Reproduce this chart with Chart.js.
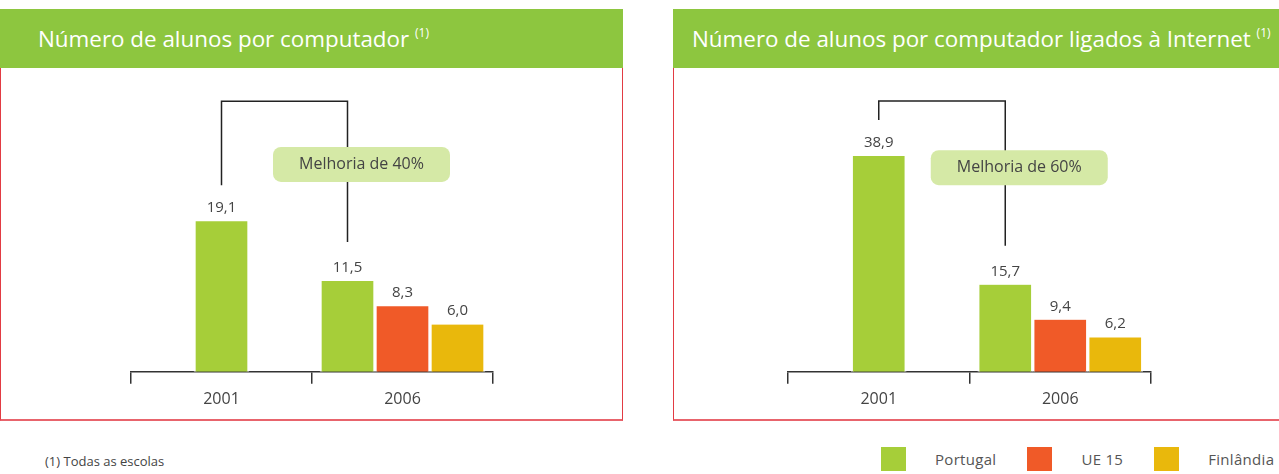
<!DOCTYPE html>
<html lang="pt">
<head>
<meta charset="UTF-8">
<title>Número de alunos por computador</title>
<script src="https://cdn.jsdelivr.net/npm/chart.js"></script>
<style>
  body { margin: 0; background: #fff; font-family: "Open Sans", sans-serif; }
  #page { position: relative; width: 1279px; height: 474px; overflow: hidden; }
  .panel { position: absolute; top: 9px; height: 412px; }
  .head { height: 59px; background: #8dc63f; color: #fff; font-size: 22.4px; line-height: 59px; white-space: nowrap; }
  .head sup { font-size: 12px; vertical-align: 10px; line-height: 0; }
  .frame { position: absolute; top: 59px; left: 0; right: 0; bottom: 0; border: 1px solid #e23b43; border-top: none; border-bottom: 2px solid #e8646c; }
  .chart { position: absolute; top: 80px; }
  #note { position: absolute; left: 45px; top: 452px; font-size: 13px; color: #444; }
  #legend { position: absolute; left: 881px; top: 447px; width: 420px; display: flex; font-size: 15px; color: #555; line-height: 24px; white-space: nowrap; letter-spacing: 0.3px; }
  #legend .sq { width: 25px; height: 24px; margin-right: 29px; flex-shrink: 0; }
  #legend .it { display: flex; margin-right: 31px; flex-shrink: 0; }
</style>
</head>
<body>
<div id="page">
  <div class="panel" style="left:0; width:623px;">
    <div class="head" style="padding-left:38px;">Número de alunos por computador <sup>(1)</sup></div>
    <div class="frame"></div>
  </div>
  <div class="panel" style="left:673px; width:640px;">
    <div class="head" style="padding-left:19px;">Número de alunos por computador ligados à Internet <sup>(1)</sup></div>
    <div class="frame"></div>
  </div>
  <canvas id="chartAlunos" class="chart" width="382" height="335" style="left:121px;"></canvas>
  <canvas id="chartInternet" class="chart" width="383" height="335" style="left:778px;"></canvas>
  <div id="note">(1) Todas as escolas</div>
  <div id="legend"></div>
</div>
<script>
// categorias e séries
var years = ['2001', '2006'];
var seriesNames = ['Portugal', 'UE 15', 'Finlândia'];
var seriesColors = ['#a6ce39', '#f05a28', '#e9b80c'];

// Número de alunos por computador
var alunosPortugal = [19.1, 11.5];
var alunosUE15 = [null, 8.3];
var alunosFinlandia = [null, 6.0];

// Número de alunos por computador ligados à Internet
var internetPortugal = [38.9, 15.7];
var internetUE15 = [null, 9.4];
var internetFinlandia = [null, 6.2];

var notes = ['Melhoria de 40%', 'Melhoria de 60%'];

// rótulos com vírgula decimal por cima das barras
var valueLabels = {
    id: 'valueLabels',
    afterDatasetsDraw: function (chart) {
        var ctx = chart.ctx;
        ctx.save();
        ctx.font = '15px "Open Sans"';
        ctx.fillStyle = '#444';
        ctx.textAlign = 'center';
        ctx.textBaseline = 'alphabetic';
        chart.data.datasets.forEach(function (ds, i) {
            chart.getDatasetMeta(i).data.forEach(function (bar, j) {
                var v = ds.data[j];
                if (v === null) return;
                ctx.fillText(v.toFixed(1).replace('.', ','), bar.x, bar.y - 9);
            });
        });
        ctx.restore();
    }
};

// chaveta entre 2001 e 2006 + caixa "Melhoria"
var bracket = {
    id: 'bracket',
    afterDatasetsDraw: function (chart, args, opts) {
        var meta = chart.getDatasetMeta(0);
        var a = meta.data[0], b = meta.data[1];
        var y = chart.scales.y;
        var top = y.getPixelForValue(opts.top);
        var ctx = chart.ctx;
        ctx.save();
        ctx.strokeStyle = '#222';
        ctx.lineWidth = 1.5;
        ctx.beginPath();
        ctx.moveTo(a.x, a.y - 36);
        ctx.lineTo(a.x, top);
        ctx.lineTo(b.x, top);
        ctx.lineTo(b.x, b.y - 39);
        ctx.stroke();

        var cy = y.getPixelForValue(opts.box);
        var cx = b.x + 14;
        var w = 177, h = 35;
        ctx.fillStyle = '#d5e9a6';
        ctx.beginPath();
        ctx.roundRect(cx - w / 2, cy - h / 2, w, h, 8);
        ctx.fill();
        ctx.fillStyle = '#444';
        ctx.font = '16px "Open Sans"';
        ctx.textAlign = 'center';
        ctx.textBaseline = 'middle';
        ctx.fillText(opts.text, cx, cy);
        ctx.restore();
    }
};

function makeChart(id, values, yMax, note) {
    var datasets = values.map(function (data, i) {
        return {
            label: seriesNames[i],
            data: data,
            backgroundColor: seriesColors[i],
            borderColor: '#fff',
            borderWidth: { left: 2, right: 2, top: 0, bottom: 0 },
            borderSkipped: false,
            barThickness: 55,
            skipNull: true
        };
    });
    return new Chart(document.getElementById(id), {
        type: 'bar',
        data: { labels: years, datasets: datasets },
        options: {
            responsive: false,
            animation: false,
            layout: { padding: { left: 10, right: 10, top: 0, bottom: 0 } },
            plugins: {
                legend: { display: false },
                tooltip: { enabled: false },
                bracket: note
            },
            scales: {
                x: {
                    grid: { display: true, drawOnChartArea: false, drawTicks: true, tickLength: 12, color: '#333', lineWidth: 1.5, offset: true },
                    border: { display: true, color: '#333', width: 1.5 },
                    ticks: { padding: 6, color: '#444', font: { family: 'Open Sans', size: 16 } }
                },
                y: { display: false, min: 0, max: yMax }
            }
        },
        plugins: [valueLabels, bracket]
    });
}

makeChart('chartAlunos', [alunosPortugal, alunosUE15, alunosFinlandia], 37.0,
    { top: 34.3, box: 26.3, text: notes[0] });
makeChart('chartInternet', [internetPortugal, internetUE15, internetFinlandia], 52.6,
    { top: 48.8, box: 36.8, text: notes[1] });

// legenda
var legend = document.getElementById('legend');
seriesNames.forEach(function (name, i) {
    var it = document.createElement('div');
    it.className = 'it';
    var sq = document.createElement('div');
    sq.className = 'sq';
    sq.style.background = seriesColors[i];
    var tx = document.createElement('span');
    tx.textContent = name;
    it.appendChild(sq);
    it.appendChild(tx);
    legend.appendChild(it);
});
</script>
</body>
</html>
